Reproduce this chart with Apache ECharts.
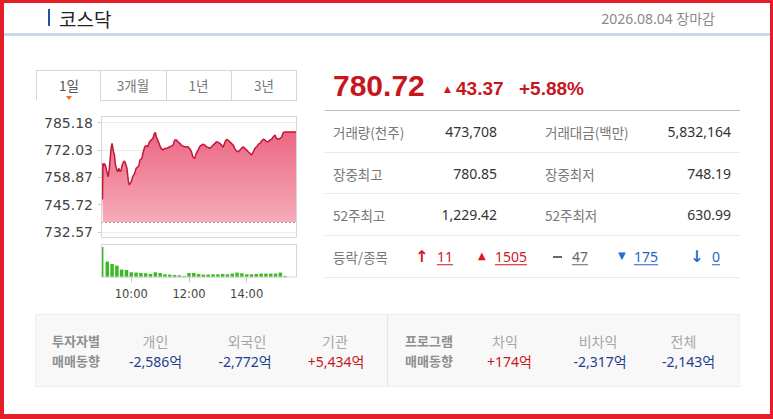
<!DOCTYPE html>
<html>
<head>
<meta charset="utf-8">
<script src="https://cdn.jsdelivr.net/npm/echarts@6/dist/echarts.min.js"></script>
<style>
html,body{margin:0;padding:0;width:773px;height:419px;overflow:hidden;background:#fff;}
body{position:relative;font-family:"Noto Sans","Noto Sans CJK KR",sans-serif;}
#chart{position:absolute;left:0;top:0;width:773px;height:419px;}
.a{position:absolute;white-space:nowrap;line-height:1.25;}
.l{transform:translateY(-50%);}
.c{transform:translate(-50%,-50%);}
.kr{font-family:"Noto Sans CJK KR",sans-serif;}
.ln{position:absolute;}
.lab{font-size:13.5px;color:#777;}
.val{font-size:14px;color:#333;}
.u{text-decoration:underline;text-underline-offset:2px;}
.inv{font-size:13px;color:#8f8f8f;font-weight:bold;}
.ih{font-size:14px;color:#a6a6a6;}
.iv{font-size:14px;}
.neg{color:#1f3d8e;}
.pos{color:#c5161d;}
#frame{position:absolute;left:0;top:0;width:773px;height:419px;box-sizing:border-box;border-style:solid;border-color:#e41f2a;border-width:3px 3px 5px 4px;pointer-events:none;}
</style>
</head>
<body>
<div id="chart"></div>

<!-- header -->
<div class="ln" style="left:48px;top:9px;width:2px;height:17px;background:#23509f"></div>
<span class="a l kr" style="left:59px;top:19px;font-size:19px;color:#222">코스닥</span>
<span class="a l" style="right:58px;top:18.5px;font-size:14px;color:#8a8a8a">2026.08.04 <span class="kr">장마감</span></span>
<div class="ln" style="left:3px;top:33px;width:767px;height:3px;background:#cbd9eb"></div>

<!-- tabs -->
<div class="ln" style="left:36px;top:70px;width:261px;height:1px;background:#d6d6d6"></div>
<div class="ln" style="left:36px;top:70px;width:1px;height:30px;background:#d6d6d6"></div>
<div class="ln" style="left:100px;top:70px;width:1px;height:31px;background:#d6d6d6"></div>
<div class="ln" style="left:166px;top:70px;width:1px;height:31px;background:#d6d6d6"></div>
<div class="ln" style="left:231px;top:70px;width:1px;height:31px;background:#d6d6d6"></div>
<div class="ln" style="left:296px;top:70px;width:1px;height:31px;background:#d6d6d6"></div>
<div class="ln" style="left:100px;top:100px;width:197px;height:1px;background:#d6d6d6"></div>
<span class="a c kr" style="left:69px;top:85px;font-size:13.5px;color:#555">1일</span>
<span class="a c kr" style="left:133px;top:85px;font-size:13.5px;color:#777">3개월</span>
<span class="a c kr" style="left:198.5px;top:85px;font-size:13.5px;color:#777">1년</span>
<span class="a c kr" style="left:264px;top:85px;font-size:13.5px;color:#777">3년</span>
<div class="ln" style="left:66px;top:96px;width:0;height:0;border-left:3px solid transparent;border-right:3px solid transparent;border-top:4px solid #f26c22"></div>

<!-- price -->
<span class="a l" style="left:333px;top:86px;font:bold 30px 'Liberation Sans',Arial,sans-serif;color:#c8161d">780.72</span>
<span class="a l" style="left:444px;top:90px;font-size:9px;color:#d0161d;font-family:'DejaVu Sans'">▲</span>
<span class="a l" style="left:456px;top:89px;font:bold 19px 'Liberation Sans',Arial,sans-serif;color:#c8161d">43.37</span>
<span class="a l" style="left:519px;top:89px;font:bold 19px 'Liberation Sans',Arial,sans-serif;color:#c8161d">+5.88%</span>
<div class="ln" style="left:325px;top:110px;width:415px;height:1px;background:#bcbcbc"></div>

<!-- info rows -->
<span class="a l kr lab" style="left:333px;top:131.5px">거래량(천주)</span>
<span class="a l val" style="right:276px;top:131.5px">473,708</span>
<span class="a l kr lab" style="left:545px;top:131.5px">거래대금(백만)</span>
<span class="a l val" style="right:42px;top:131.5px">5,832,164</span>
<div class="ln" style="left:325px;top:152px;width:415px;height:1px;background:#e9e9e9"></div>

<span class="a l kr lab" style="left:333px;top:173.5px">장중최고</span>
<span class="a l val" style="right:276px;top:173.5px">780.85</span>
<span class="a l kr lab" style="left:545px;top:173.5px">장중최저</span>
<span class="a l val" style="right:42px;top:173.5px">748.19</span>
<div class="ln" style="left:325px;top:193px;width:415px;height:1px;background:#e9e9e9"></div>

<span class="a l kr lab" style="left:333px;top:214.5px">52주최고</span>
<span class="a l val" style="right:276px;top:214.5px">1,229.42</span>
<span class="a l kr lab" style="left:545px;top:214.5px">52주최저</span>
<span class="a l val" style="right:42px;top:214.5px">630.99</span>
<div class="ln" style="left:325px;top:235px;width:415px;height:1px;background:#e9e9e9"></div>

<span class="a l kr lab" style="left:333px;top:256.5px">등락/종목</span>
<span class="a l" style="left:415px;top:256px;font:bold 16px 'DejaVu Sans';color:#e0161e">↑</span>
<span class="a l val u" style="left:437px;top:256.5px;color:#d0161d">11</span>
<span class="a l" style="left:478px;top:256px;font-size:10px;font-family:'DejaVu Sans';color:#e0161e">▲</span>
<span class="a l val u" style="left:495px;top:256.5px;color:#d0161d">1505</span>
<div class="ln" style="left:553px;top:256px;width:9px;height:2px;background:#666"></div>
<span class="a l val u" style="left:572px;top:256.5px;color:#666">47</span>
<span class="a l" style="left:618px;top:256px;font-size:10px;font-family:'DejaVu Sans';color:#2a6ad2">▼</span>
<span class="a l val u" style="left:634px;top:256.5px;color:#2a5fc0">175</span>
<span class="a l" style="left:690px;top:256px;font:bold 16px 'DejaVu Sans';color:#2a6ad2">↓</span>
<span class="a l val u" style="left:712px;top:256.5px;color:#2a5fc0">0</span>
<div class="ln" style="left:325px;top:277px;width:415px;height:1px;background:#e9e9e9"></div>

<!-- investor panel -->
<div class="ln" style="left:35px;top:314px;width:705px;height:73px;background:#f8f8f8;border:1px solid #eeeeee;box-sizing:border-box"></div>
<div class="ln" style="left:387px;top:314px;width:1px;height:73px;background:#e6e6e6"></div>
<span class="a l kr inv" style="left:52px;top:341px">투자자별</span>
<span class="a l kr inv" style="left:52px;top:361px">매매동향</span>
<span class="a c kr ih" style="left:155.5px;top:341.5px">개인</span>
<span class="a c iv neg" style="left:155.5px;top:361.5px">-2,586<span class="kr">억</span></span>
<span class="a c kr ih" style="left:247px;top:341.5px">외국인</span>
<span class="a c iv neg" style="left:245px;top:361.5px">-2,772<span class="kr">억</span></span>
<span class="a c kr ih" style="left:335px;top:341.5px">기관</span>
<span class="a c iv pos" style="left:336px;top:361.5px">+5,434<span class="kr">억</span></span>

<span class="a l kr inv" style="left:405px;top:341px">프로그램</span>
<span class="a l kr inv" style="left:405px;top:361px">매매동향</span>
<span class="a c kr ih" style="left:505px;top:341.5px">차익</span>
<span class="a c iv pos" style="left:509.5px;top:361.5px">+174<span class="kr">억</span></span>
<span class="a c kr ih" style="left:598px;top:341.5px">비차익</span>
<span class="a c iv neg" style="left:600px;top:361.5px">-2,317<span class="kr">억</span></span>
<span class="a c kr ih" style="left:683.5px;top:341.5px">전체</span>
<span class="a c iv neg" style="left:688.5px;top:361.5px">-2,143<span class="kr">억</span></span>

<div id="frame"></div>

<script>
// ---- data ----
const priceTimes = ['09:00','09:01','09:02','09:03','09:06','09:10','09:12','09:14','09:18','09:20','09:23','09:25','09:27','09:30','09:32','09:34','09:37','09:39','09:41','09:44','09:46','09:49','09:51','09:54','09:56',
'10:00','10:03','10:07','10:10','10:14','10:16','10:18','10:22','10:25','10:28','10:31','10:34','10:38','10:41','10:45','10:48','10:50','10:52','10:55','10:59',
'11:02','11:06','11:09','11:13','11:16','11:20','11:23','11:27','11:30','11:34','11:37','11:41','11:44','11:48','11:51','11:55','11:58',
'12:01','12:05','12:08','12:12','12:15','12:19','12:22','12:26','12:29','12:33','12:36','12:40','12:43','12:47','12:50','12:54','12:57',
'13:01','13:04','13:08','13:11','13:15','13:18','13:21','13:25','13:28','13:32','13:35','13:39','13:42','13:46','13:49','13:53','13:56',
'14:00','14:03','14:07','14:10','14:14','14:17','14:21','14:24','14:28','14:31','14:35','14:38','14:42','14:45','14:48','14:52','14:55','14:59',
'15:02','15:06','15:09','15:13','15:16','15:20','15:44'];
const prices = [748.19,765.6,764.0,765.6,764.8,760.8,759.2,762.4,772.8,775.2,771.2,769.6,764.8,762.4,761.6,763.2,761.6,762.4,764.8,766.4,766.7,764.8,763.2,756.8,755.2,
756.8,759.2,760.8,763.2,764.0,764.8,767.2,768.0,771.2,773.6,774.1,773.6,776.0,776.8,777.6,780.0,780.5,778.4,776.8,774.4,
772.8,772.0,772.8,772.8,773.1,773.6,773.9,774.4,776.8,776.8,776.0,775.2,774.4,773.9,773.6,773.6,773.6,
772.8,771.2,768.8,768.0,770.4,772.0,773.6,774.4,774.8,774.4,773.6,773.3,772.8,773.6,774.4,775.2,776.0,
775.7,775.2,774.4,773.3,776.0,777.2,776.8,776.0,775.2,774.4,772.8,771.5,771.2,772.0,772.8,773.6,772.8,
772.0,771.2,770.4,769.6,771.2,772.8,773.6,774.8,775.2,776.4,777.3,776.8,776.0,776.0,776.8,777.3,778.4,779.2,
777.6,777.3,777.6,778.4,780.5,780.72,780.72];
const prevClose = 737.35;

const volTimes = ['09:10','09:20','09:30','09:40','09:50','10:00','10:10','10:20','10:30','10:40',
'10:50','11:00','11:10','11:20','11:30','11:40','11:50','12:00','12:10','12:20',
'12:30','12:40','12:50','13:00','13:10','13:20','13:30','13:40','13:50','14:00',
'14:10','14:20','14:30','14:40','14:50','15:00','15:10','15:20'];
const volumes = [37200,31500,27700,18300,17300,11900,11100,10200,9500,7800,
11900,10200,7100,6400,5500,4700,3100,10200,10200,7800,
6400,6400,7100,7100,7800,7100,8800,11100,9500,7100,
7100,7800,8800,8800,8800,8800,11100,3100];
const openAuctionTime = '09:00';
const openAuctionVol = 71800;

const yTickLabels = [732.57, 745.72, 758.87, 772.03, 785.18];
const xTickTimes = ['10:00', '12:00', '14:00'];

// ---- build ----
const toMin = s => { const p = s.split(':'); return (+p[0]) * 60 + (+p[1]); };
const priceData = priceTimes.map((t, i) => [toMin(t), prices[i]]);
const volData = volTimes.map((t, i) => [toMin(t), volumes[i]]);
const xTickVals = xTickTimes.map(toMin);
const X_MIN = 537, X_MAX = 944;

const chart = echarts.init(document.getElementById('chart'), null, {renderer: 'svg'});
chart.setOption({
  animation: false,
  grid: [
    {left: 101, top: 122.7, width: 195.7, height: 109.3, show: false},
    {left: 101, top: 244.3, width: 195.7, height: 33, show: false}
  ],
  xAxis: [
    {gridIndex: 0, type: 'value', min: X_MIN, max: X_MAX, show: false},
    {gridIndex: 1, type: 'value', min: X_MIN, max: X_MAX,
      axisLine: {show: false}, splitLine: {show: false},
      axisTick: {show: true, customValues: xTickVals, length: 5, lineStyle: {color: '#c8c8c8'}},
      axisLabel: {customValues: xTickVals, margin: 11,
        formatter: v => { const h = Math.floor(v / 60), m = v % 60; return (h < 10 ? '0' : '') + h + ':' + (m < 10 ? '0' : '') + m; },
        fontFamily: 'DejaVu Sans', fontSize: 11.5, color: '#444'}},
    {gridIndex: 1, type: 'value', min: X_MIN, max: X_MAX, show: false}
  ],
  yAxis: [
    {gridIndex: 0, type: 'value', min: yTickLabels[0], max: yTickLabels[yTickLabels.length - 1],
      interval: (yTickLabels[yTickLabels.length - 1] - yTickLabels[0]) / (yTickLabels.length - 1),
      axisLine: {show: false},
      axisTick: {show: true, length: 3, lineStyle: {color: '#cccccc'}},
      splitLine: {show: true, lineStyle: {color: '#ececec'}},
      axisLabel: {margin: 8, fontFamily: 'DejaVu Sans', fontSize: 14, color: '#444',
        formatter: v => yTickLabels.reduce((a, b) => Math.abs(b - v) < Math.abs(a - v) ? b : a).toFixed(2)}},
    {gridIndex: 1, type: 'value', min: 0, max: 78200, show: false}
  ],
  series: [
    {type: 'line', xAxisIndex: 0, yAxisIndex: 0, data: priceData, symbol: 'none', silent: true,
      lineStyle: {color: '#c5153a', width: 1.5},
      areaStyle: {origin: prevClose, opacity: 1,
        color: new echarts.graphic.LinearGradient(0, 0, 0, 1, [
          {offset: 0, color: '#ea6882'}, {offset: 1, color: '#f6abb9'}])},
      markLine: {silent: true, symbol: 'none', label: {show: false},
        lineStyle: {color: '#b09098', type: [2, 2], width: 1},
        data: [{yAxis: prevClose}]}},
    {type: 'bar', xAxisIndex: 1, yAxisIndex: 1, data: volData, barWidth: 3.5, silent: true,
      itemStyle: {color: '#3db826'}},
    {type: 'bar', xAxisIndex: 2, yAxisIndex: 1, data: [[toMin(openAuctionTime), openAuctionVol]], barWidth: 2, silent: true,
      itemStyle: {color: '#3db826'}}
  ],
  graphic: [
    {type: 'rect', silent: true, z: 10, shape: {x: 101.5, y: 116.5, width: 195, height: 121},
      style: {fill: 'none', stroke: '#d6d6d6', lineWidth: 1}},
    {type: 'rect', silent: true, z: 10, shape: {x: 101.5, y: 244.5, width: 195, height: 32.5},
      style: {fill: 'none', stroke: '#d6d6d6', lineWidth: 1}}
  ]
});
</script>
</body>
</html>
